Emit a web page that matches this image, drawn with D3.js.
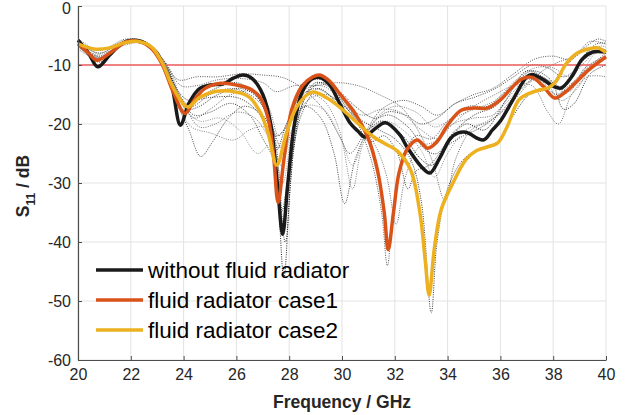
<!DOCTYPE html>
<html>
<head>
<meta charset="utf-8">
<script src="https://cdn.jsdelivr.net/npm/d3@7"></script>
<style>
  body { margin: 0; background: #fff; }
  svg { display: block; font-family: "Liberation Sans", Arial, sans-serif; }
</style>
</head>
<body>
<svg id="chart"></svg>
<script>
// tick values
const xTicks = [20, 22, 24, 26, 28, 30, 32, 34, 36, 38, 40];
const yTicks = [0, -10, -20, -30, -40, -50, -60];
const threshold = -10;

// main curves: [frequency GHz, S11 dB]
const withoutFluid = [[20,-5.8],[20.4,-8],[20.75,-10.3],[21.2,-8.3],[21.6,-6.6],[21.9,-5.9],[22.4,-6.0],[22.7,-6.8],[23,-8],[23.3,-10.8],[23.56,-13.7],[23.88,-20.2],[24.2,-16.5],[24.6,-14],[25,-13.4],[25.5,-13.2],[25.9,-12.2],[26.25,-11.7],[26.6,-12.3],[27,-15],[27.3,-20],[27.55,-30],[27.75,-38.7],[27.95,-30],[28.2,-20],[28.5,-14.5],[28.85,-12.4],[29.1,-12.1],[29.5,-13.2],[29.9,-16.4],[30.3,-19.8],[30.6,-21.2],[30.87,-22.2],[31.2,-21],[31.65,-19.8],[32.2,-21.9],[32.45,-23.8],[33,-27.2],[33.33,-28.3],[33.7,-25.8],[34.1,-22.5],[34.4,-21.5],[34.7,-21.4],[35.35,-22.7],[35.7,-21],[36,-19.5],[36.5,-15.7],[37,-12],[37.2,-11.6],[37.6,-12.4],[38,-13.6],[38.3,-13.9],[38.7,-12],[39.1,-9],[39.5,-7.8],[40,-7.8]];
const fluidCase1 = [[20,-6.4],[20.4,-8],[20.72,-9.2],[21.2,-8],[21.8,-6.1],[22.3,-6.0],[22.8,-7.3],[23.2,-10],[23.6,-14.5],[24.05,-18.2],[24.4,-16],[24.8,-14],[25.4,-13.1],[26,-13.4],[26.5,-14],[26.9,-15.5],[27.2,-19],[27.4,-25],[27.58,-33.3],[27.8,-26],[28.1,-17.5],[28.5,-13.5],[28.9,-12],[29.15,-11.7],[29.5,-12.6],[29.9,-14.8],[30.5,-18.2],[31,-22.5],[31.35,-28],[31.6,-35],[31.75,-41.3],[31.95,-35],[32.15,-28.5],[32.45,-24.4],[32.85,-22.7],[33.25,-24.1],[33.6,-23],[34,-20.2],[34.5,-17.7],[35,-17.3],[35.5,-17.3],[36,-15.9],[36.4,-14],[36.8,-12.4],[37.2,-12.1],[37.6,-13.5],[38.05,-15.6],[38.4,-14.8],[38.8,-13.2],[39.3,-11],[40,-8.6]];
const fluidCase2 = [[20,-6.4],[20.6,-7.3],[21.2,-7.1],[21.8,-6.2],[22.3,-6.0],[22.8,-7],[23.2,-9.7],[23.6,-13.8],[24.15,-17.1],[24.6,-15.5],[25.2,-14.5],[26,-14.6],[26.5,-15.5],[26.9,-18],[27.2,-21.5],[27.53,-27],[27.9,-21.5],[28.3,-17],[28.86,-14.6],[29.4,-15.5],[29.9,-17.1],[30.5,-19.5],[31.2,-22.2],[31.7,-23.5],[32.1,-24.6],[32.6,-27.8],[32.95,-35],[33.15,-43],[33.3,-49],[33.5,-41],[33.75,-34.6],[34.2,-30],[34.7,-26],[35.1,-24.5],[35.5,-23.9],[35.9,-23.2],[36.25,-20.5],[36.7,-15.9],[37.1,-14.8],[37.5,-14.2],[37.8,-13.9],[38.1,-12.8],[38.5,-9.7],[38.9,-8],[39.4,-7.2],[39.7,-7.1],[40,-7.9]];

// parameter sweep curves (dotted)
const sweep1 = [[20,-6],[20.8,-9],[21.8,-6],[22.5,-6.2],[23.2,-9.5],[23.7,-15],[24,-18],[24.5,-16],[25.2,-14],[26,-13],[26.6,-14.5],[27.1,-18],[27.5,-28],[27.8,-46],[28.05,-30],[28.4,-18],[29,-13],[29.6,-14],[30.3,-18],[30.9,-21],[31.5,-19.5],[32.3,-22],[33,-26],[33.4,-27],[34,-23],[34.7,-20],[35.4,-21],[36.2,-16],[37,-11],[37.6,-12],[38.2,-14],[38.8,-11],[39.5,-7],[40,-7.5]];
const sweep2 = [[20,-7],[20.8,-8.5],[21.8,-6.2],[22.6,-6.5],[23.3,-10.5],[23.8,-15],[24.3,-17],[25,-15],[25.8,-14],[26.5,-15],[27,-17],[27.4,-21],[27.7,-24],[28.1,-18],[28.7,-13],[29.3,-12.5],[29.9,-15],[30.5,-19],[31.1,-26],[31.5,-35],[31.72,-44],[31.95,-34],[32.3,-26],[32.8,-22],[33.4,-22.5],[34,-19.5],[34.8,-17],[35.5,-17],[36.2,-14.5],[36.9,-12],[37.5,-12.5],[38.1,-15],[38.6,-13.5],[39.3,-10.5],[40,-8]];
const sweep3 = [[20,-6.5],[20.8,-7.5],[21.8,-6],[22.6,-6.3],[23.3,-10],[23.8,-14.5],[24.2,-16],[25,-15.5],[26,-15.5],[26.6,-17],[27.1,-20],[27.5,-24.5],[27.9,-20],[28.4,-15.5],[29,-14],[29.8,-16],[30.6,-19],[31.4,-21],[32,-22.5],[32.6,-26],[33,-33],[33.38,-52],[33.6,-40],[34,-31],[34.6,-26],[35.3,-24],[35.9,-23],[36.5,-18.5],[37.1,-15],[37.8,-14],[38.4,-10.5],[39.2,-7.5],[39.7,-7],[40,-8]];
const sweep4 = [[20,-6.2],[20.8,-8],[21.9,-5.8],[22.6,-6.3],[23.4,-11],[23.9,-16],[24.4,-19],[25,-17.5],[25.8,-15],[26.6,-14.5],[27.2,-17],[27.6,-22],[28,-19],[28.5,-14.5],[29.2,-13.5],[30,-16],[30.7,-20],[31.3,-24],[31.7,-29],[32.05,-37],[32.4,-29],[32.9,-24],[33.5,-23],[34.2,-20],[35,-19],[35.7,-18.5],[36.4,-15],[37,-12.5],[37.7,-13],[38.3,-16],[38.9,-14],[39.5,-10],[40,-9]];
const sweep5 = [[20,-6.8],[20.8,-8.8],[21.8,-6.3],[22.5,-6.5],[23.2,-10],[23.7,-16],[24.2,-21],[24.65,-25.5],[25.1,-23],[25.7,-19],[26.3,-17],[27,-18.5],[27.5,-22],[28,-20],[28.6,-17],[29.2,-19],[29.7,-25],[30.1,-33.5],[30.5,-26],[31,-21],[31.7,-18],[32.4,-18.5],[33,-20],[33.6,-19],[34.3,-16.5],[35,-15.5],[35.8,-14],[36.5,-12],[37.2,-10],[37.8,-10.5],[38.4,-12],[39,-10],[39.6,-6.5],[40,-6.3]];
const sweep6 = [[20,-6.1],[20.8,-8.5],[21.9,-6],[22.6,-6.5],[23.3,-11],[23.8,-17],[24.3,-20.5],[25,-21.5],[25.9,-22.7],[26.5,-21],[27.1,-20.5],[27.6,-24],[28.1,-19],[28.7,-15],[29.3,-16],[29.9,-21],[30.4,-31],[30.75,-24],[31.3,-19],[32,-17],[32.8,-18],[33.5,-20.5],[34.2,-19],[35,-17.5],[35.8,-16],[36.6,-12.5],[37.3,-10.5],[38,-10.5],[38.6,-12],[39.2,-9.5],[39.8,-6.8],[40,-7]];
const sweep7 = [[20,-5.5],[20.8,-7.5],[21.8,-5.6],[22.5,-6],[23.3,-9.5],[23.9,-13.5],[24.5,-13.5],[25.3,-12.5],[26.2,-12.3],[27,-13],[27.5,-14.5],[28.2,-13.5],[29,-13.5],[29.8,-13],[30.6,-13.5],[31.4,-15],[32.2,-17],[32.8,-20.5],[33.4,-26],[33.9,-33],[34.3,-26],[34.9,-21],[35.6,-19.5],[36.3,-17],[37,-13.5],[37.6,-11],[38.2,-9.5],[38.8,-8.5],[39.4,-6],[40,-6.5]];
const sweep8 = [[20,-6.6],[20.8,-9.5],[21.8,-6.3],[22.5,-6.5],[23.2,-9],[23.7,-14],[24.1,-17.5],[24.6,-17],[25.3,-15],[26.2,-14],[26.9,-16],[27.4,-21],[27.85,-40],[28.15,-25],[28.6,-15.5],[29.2,-13],[29.9,-14.5],[30.5,-17],[31.2,-19],[31.8,-18.5],[32.5,-20.5],[33.2,-24.5],[33.6,-25],[34.2,-21.5],[35,-18.5],[35.8,-17],[36.5,-13.5],[37.2,-11],[37.9,-12.5],[38.4,-17.5],[38.8,-16.5],[39.4,-11.5],[40,-10]];
const sweep9 = [[20,-7.3],[20.8,-9],[21.8,-6.6],[22.6,-6.4],[23.4,-10.5],[24,-16.5],[24.6,-20.5],[25.2,-20],[26,-18],[26.7,-19],[27.3,-23],[27.7,-27],[28.1,-21],[28.7,-16],[29.4,-15],[30.1,-17],[30.8,-18.5],[31.5,-17.5],[32.2,-18],[33,-21],[33.6,-22.5],[34.2,-20],[35,-17],[35.8,-15],[36.5,-13.5],[37.2,-13.5],[37.8,-18],[38.2,-20],[38.7,-15],[39.3,-12],[40,-12]];
const sweep10 = [[20,-6],[20.8,-8],[21.8,-5.8],[22.5,-6],[23.2,-9],[23.8,-12.5],[24.5,-12],[25.3,-12],[26.2,-11.5],[27,-11.7],[27.8,-12.2],[28.5,-14],[29.3,-17.5],[29.9,-22],[30.3,-25],[30.8,-22],[31.5,-17.5],[32.3,-16],[33,-17],[33.6,-18.5],[34.3,-16.5],[35,-15],[35.7,-14],[36.5,-11.5],[37.3,-9],[38,-8.5],[38.6,-9],[39.2,-7],[39.7,-5.6],[40,-6]];
const sweep11 = [[20,-6.9],[20.8,-8.2],[21.9,-6.2],[22.6,-6.8],[23.4,-11.5],[24,-17],[24.6,-19.5],[25.4,-19],[26.1,-21],[26.8,-25],[27.3,-23.5],[27.75,-30],[28.1,-22],[28.6,-17],[29.3,-17.5],[30,-23],[30.4,-27],[30.9,-22],[31.6,-19.5],[32.3,-21],[33,-24.5],[33.5,-29],[34,-25],[34.7,-21],[35.5,-19.5],[36.2,-16.5],[37,-13],[37.7,-12.5],[38.4,-14.5],[39,-12],[39.6,-8],[40,-7.5]];
const sweep12 = [[20,-6.3],[20.8,-8.7],[21.8,-6.2],[22.6,-6.2],[23.3,-10],[23.9,-15.5],[24.4,-18.5],[25,-18],[25.8,-16.5],[26.5,-18.5],[27,-22.5],[27.4,-26],[27.7,-35],[28,-28],[28.5,-18],[29.1,-14],[29.8,-16.5],[30.5,-21],[31.1,-23],[31.6,-22],[32.1,-25],[32.5,-31],[32.8,-28],[33.3,-27],[33.9,-24],[34.6,-22],[35.3,-20.5],[36,-18],[36.7,-14.5],[37.4,-12],[38,-13],[38.6,-14.5],[39.2,-10.5],[40,-8.5]];

const sweeps = [sweep1, sweep2, sweep3, sweep4, sweep5, sweep6, sweep7, sweep8, sweep9, sweep10, sweep11, sweep12];
const sweepGrays = ["#111", "#444", "#222", "#666", "#333", "#777", "#555", "#222", "#666", "#444", "#888", "#333"];

const seriesNames = ["without fluid radiator", "fluid radiator case1", "fluid radiator case2"];
const seriesColors = ["#1a1a1a", "#d95319", "#edb120"];
const series = [withoutFluid, fluidCase1, fluidCase2];

const width = 638;
const height = 415;
const marginTop = 6;
const marginRight = 32;
const marginBottom = 55;
const marginLeft = 78;

const x = d3.scaleLinear().domain([20, 40]).range([marginLeft, width - marginRight]);
const y = d3.scaleLinear().domain([-60, 0]).range([height - marginBottom, marginTop]);

const svg = d3.select("#chart")
    .attr("width", width)
    .attr("height", height);

// grid
svg.append("g")
    .attr("stroke", "#e3e3e3")
    .attr("stroke-width", 1)
    .selectAll("line.gx")
    .data(xTicks)
    .join("line")
      .attr("x1", d => x(d)).attr("x2", d => x(d))
      .attr("y1", y(0)).attr("y2", y(-60));
svg.append("g")
    .attr("stroke", "#e3e3e3")
    .attr("stroke-width", 1)
    .selectAll("line.gy")
    .data(yTicks)
    .join("line")
      .attr("x1", x(20)).attr("x2", x(40))
      .attr("y1", d => y(d)).attr("y2", d => y(d));

const line = d3.line()
    .x(d => x(d[0]))
    .y(d => y(d[1]))
    .curve(d3.curveCatmullRom.alpha(0.5));

// dotted sweep curves
svg.append("g")
    .attr("fill", "none")
    .selectAll("path")
    .data(sweeps)
    .join("path")
      .attr("d", line)
      .attr("stroke", (d, i) => sweepGrays[i])
      .attr("stroke-width", 0.9)
      .attr("stroke-dasharray", "1,1.3");

// -10 dB reference
svg.append("line")
    .attr("x1", x(20)).attr("x2", x(40))
    .attr("y1", y(threshold)).attr("y2", y(threshold))
    .attr("stroke", "#ee5c5c")
    .attr("stroke-width", 1.3);

// main curves
svg.append("g")
    .attr("fill", "none")
    .selectAll("path")
    .data(series)
    .join("path")
      .attr("d", line)
      .attr("stroke", (d, i) => seriesColors[i])
      .attr("stroke-width", 3.5)
      .attr("stroke-linejoin", "round");

// axes
const xAxis = svg.append("g")
    .attr("transform", `translate(0,${y(-60)})`)
    .call(d3.axisBottom(x).tickValues(xTicks).tickSizeInner(-4).tickSizeOuter(0).tickPadding(9));
const yAxis = svg.append("g")
    .attr("transform", `translate(${x(20)},0)`)
    .call(d3.axisLeft(y).tickValues(yTicks).tickSizeInner(-4).tickSizeOuter(0).tickPadding(7)
      .tickFormat(d => d === 0 ? "0" : "-" + Math.abs(d)));

[xAxis, yAxis].forEach(g => {
  g.select(".domain").attr("stroke", "#4d4d4d").attr("stroke-width", 1.2);
  g.selectAll(".tick line").attr("stroke", "#4d4d4d");
  g.selectAll(".tick text")
    .attr("fill", "#262626")
    .style("font-size", "16px")
    .style("font-family", "'Liberation Sans', Arial, sans-serif");
});
// keep the top label inside the page
yAxis.selectAll(".tick text").filter(d => d === 0).attr("dy", "0.45em");

// axis labels
svg.append("text")
    .attr("x", (x(20) + x(40)) / 2)
    .attr("y", 408)
    .attr("text-anchor", "middle")
    .attr("font-weight", "bold")
    .attr("font-size", 17.5)
    .attr("fill", "#262626")
    .text("Frequency / GHz");

const yLabel = svg.append("text")
    .attr("transform", `translate(29,${(y(0) + y(-60)) / 2 + 3}) rotate(-90)`)
    .attr("text-anchor", "middle")
    .attr("font-weight", "bold")
    .attr("font-size", 17.5)
    .attr("fill", "#262626");
yLabel.append("tspan").text("S");
yLabel.append("tspan").attr("font-size", 12).attr("dy", 6).text("11");
yLabel.append("tspan").attr("dy", -6).text("  / dB");

// legend
const legend = svg.append("g")
    .selectAll("g")
    .data(seriesNames)
    .join("g")
      .attr("transform", (d, i) => `translate(96,${270 + i * 30})`);
legend.append("line")
    .attr("x1", 0).attr("x2", 47)
    .attr("stroke", (d, i) => seriesColors[i])
    .attr("stroke-width", 3.5);
legend.append("text")
    .attr("x", 52)
    .attr("y", 8)
    .attr("font-size", 22.5)
    .attr("fill", "#000")
    .text(d => d);
</script>
</body>
</html>
